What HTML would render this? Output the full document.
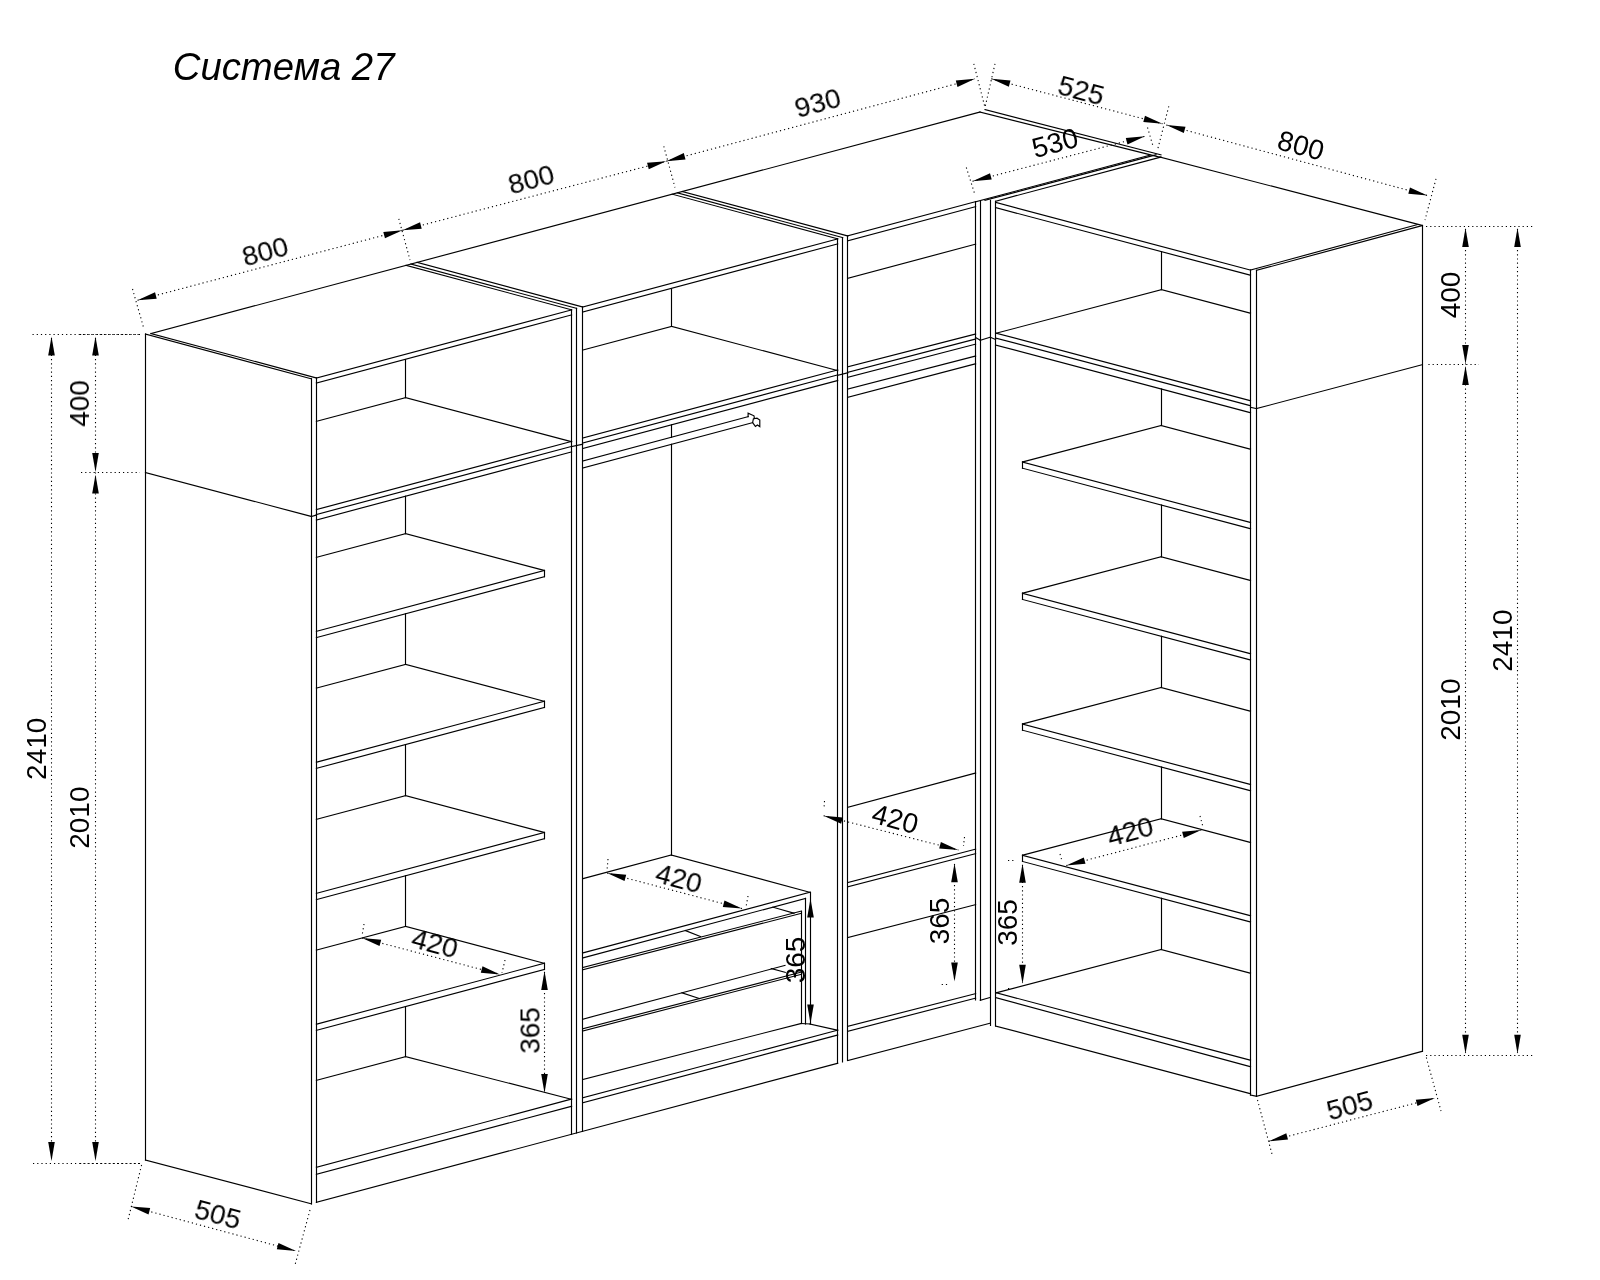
<!DOCTYPE html>
<html lang="ru"><head><meta charset="utf-8"><title>Система 27</title>
<style>html,body{margin:0;padding:0;background:#fff}svg{display:block}text{font-family:"Liberation Sans",sans-serif;fill:#000}</style></head><body>
<svg width="1600" height="1280" viewBox="0 0 1600 1280">
<rect width="1600" height="1280" fill="#fff"/>
<g stroke="#000" stroke-width="1.15" fill="none" stroke-linecap="square">
<path d="M145.5 334L145.5 1160"/>
<path d="M145.5 334L311.4 378.8"/>
<path d="M151 333.5L316.4 378"/>
<path d="M311.5 378.8L311.5 1203.8"/>
<path d="M316.5 378L316.5 1202.4"/>
<path d="M145.5 1160L311.4 1203.8"/>
<path d="M145.5 472.5L311.4 516.5"/>
<path d="M151 333.5L980 112"/>
<path d="M316.4 378L571.6 309.86"/>
<path d="M316.4 383L571.6 314.86"/>
<path d="M582.6 307L837.7 238.89"/>
<path d="M582.6 312L837.7 243.89"/>
<path d="M847.8 235.8L975.6 201.68"/>
<path d="M847.8 240.8L975.6 206.68"/>
<path d="M406 265.36L571.6 309.8"/>
<path d="M411 264.03L576.6 308.4"/>
<path d="M417 262.42L582.6 307"/>
<path d="M672.3 194.21L837.7 238.9"/>
<path d="M677.3 192.87L842.7 237.6"/>
<path d="M682.4 191.51L847.8 236"/>
<path d="M316.4 1202.4L837.7 1063.24"/>
<path d="M847.8 1060.54L990.3 1023.2"/>
<path d="M571.5 309.8L571.5 1134.29"/>
<path d="M576.5 308.4L576.5 1132.95"/>
<path d="M582.5 307L582.5 1131.35"/>
<path d="M837.5 238.9L837.5 1063.24"/>
<path d="M842.5 237.6L842.5 1061.9"/>
<path d="M847.5 236L847.5 1060.54"/>
<path d="M571.6 446.6L582.6 444.2"/>
<path d="M837.7 375.4L847.8 372.8"/>
<path d="M405.5 359.6L405.5 397.6"/>
<path d="M405.4 397.6L316.4 421.36"/>
<path d="M405.4 397.6L571.6 441.73"/>
<path d="M316.4 509.6L571.6 441.46"/>
<path d="M316.4 514.5L571.6 446.36"/>
<path d="M316.4 520L571.6 451.86"/>
<path d="M311.4 516.5L316.4 515"/>
<path d="M405.5 496.24L405.5 533.6"/>
<path d="M405.4 533.6L316.4 557.36"/>
<path d="M405.4 533.6L544.4 570.5"/>
<path d="M544.5 570.5L544.5 576.7"/>
<path d="M544.4 570.5L316.4 631.38"/>
<path d="M544.4 576.7L316.4 637.58"/>
<path d="M405.5 613.82L405.5 664.4"/>
<path d="M405.4 664.4L316.4 688.16"/>
<path d="M405.4 664.4L544.4 701.3"/>
<path d="M544.5 701.3L544.5 707.5"/>
<path d="M544.4 701.3L316.4 762.18"/>
<path d="M544.4 707.5L316.4 768.38"/>
<path d="M405.5 744.62L405.5 795.6"/>
<path d="M405.4 795.6L316.4 819.36"/>
<path d="M405.4 795.6L544.4 832.5"/>
<path d="M544.5 832.5L544.5 838.7"/>
<path d="M544.4 832.5L316.4 893.38"/>
<path d="M544.4 838.7L316.4 899.58"/>
<path d="M405.5 875.82L405.5 926.4"/>
<path d="M405.4 926.4L316.4 950.16"/>
<path d="M405.4 926.4L544.4 963.3"/>
<path d="M544.5 963.3L544.5 969.5"/>
<path d="M544.4 963.3L316.4 1024.18"/>
<path d="M544.4 969.5L316.4 1030.38"/>
<path d="M405.5 1006.62L405.5 1056.6"/>
<path d="M405.4 1056.6L316.4 1080.36"/>
<path d="M405.4 1056.6L571.6 1099.3"/>
<path d="M316.4 1167.2L571.6 1099.06"/>
<path d="M316.4 1174.4L571.6 1106.26"/>
<path d="M671.5 289L671.5 326.4"/>
<path d="M671.4 326.4L582.6 350.11"/>
<path d="M671.4 326.4L837.7 370.55"/>
<path d="M582.6 438L837.7 369.89"/>
<path d="M582.6 443L837.7 374.89"/>
<path d="M582.6 448.6L837.7 380.49"/>
<path d="M582.6 461L748.1 416.6"/>
<path d="M582.6 468L752.6 422.6"/>
<path d="M671.5 424.89L671.5 437.29"/>
<path d="M671.5 444.29L671.5 855"/>
<path d="M671.4 855L582.6 878.71"/>
<path d="M671.4 855L810 892.3"/>
<path d="M810 892.3L582.6 953"/>
<path d="M805.5 898.4L582.6 958"/>
<path d="M810.5 892.3L810.5 1024"/>
<path d="M805.5 898.4L805.5 1024"/>
<path d="M801.5 911.2L801.5 1023.5"/>
<path d="M582.6 967.6L801 911.2"/>
<path d="M582.6 969.8L801 913.4"/>
<path d="M685.5 930.6L700.5 936.6"/>
<path d="M773 907.2L794 913.2"/>
<path d="M582.6 1019.2L785 965.4"/>
<path d="M582.6 1028.8L801 972.2"/>
<path d="M582.6 1031L801 974.4"/>
<path d="M682 992.8L699.5 998.6"/>
<path d="M771.3 968.6L785.3 972.4"/>
<path d="M582.6 1079.6L801 1023.5"/>
<path d="M801 1023.5L810 1024"/>
<path d="M810 1024L837.7 1030.2"/>
<path d="M582.6 1097.9L837.7 1030.2"/>
<path d="M582.6 1102.8L837.7 1035"/>
<path d="M847.8 278.2L975.6 244.2"/>
<path d="M847.8 366.9L975.6 334"/>
<path d="M847.8 372.3L975.6 339"/>
<path d="M847.8 377.2L975.6 344.2"/>
<path d="M847.8 389L975.6 356"/>
<path d="M847.8 397.3L975.6 363.8"/>
<path d="M847.8 807.25L975.6 773"/>
<path d="M847.8 882.5L975.6 849.2"/>
<path d="M847.8 886.9L975.6 853.6"/>
<path d="M847.8 937.6L975.6 904.6"/>
<path d="M847.8 1026.4L975.6 993.6"/>
<path d="M847.8 1031.2L975.6 998.2"/>
<path d="M975.5 201.6L975.5 999.8"/>
<path d="M980.5 201L980.5 1000.2"/>
<path d="M990.5 200.4L990.5 1025.4"/>
<path d="M995.5 201.2L995.5 1026"/>
<path d="M980.3 1000.2L990.3 997.4"/>
<path d="M975.6 337.5L980.3 340.3"/>
<path d="M980.3 340.3L990.3 337.2"/>
<path d="M990.3 337.2L995.6 339.5"/>
<path d="M980 112L1160 157.2"/>
<path d="M985 109.6L1161 154.8"/>
<path d="M1160 157L1422.4 225.5"/>
<path d="M975.6 201.8L1150 155.2"/>
<path d="M985 200.4L1156 154.8"/>
<path d="M995.6 201.2L1161 157"/>
<path d="M995.6 202.4L1250.5 270.08"/>
<path d="M995.6 207.6L1250.5 275.28"/>
<path d="M1250.5 270.1L1250.5 1095"/>
<path d="M1256.5 270.4L1256.5 1096.3"/>
<path d="M1422.5 225.5L1422.5 1051.3"/>
<path d="M1256.5 270.4L1422.4 225.5"/>
<path d="M1250.5 270.1L1417.2 224.6"/>
<path d="M1256.5 1096.3L1422.4 1051.3"/>
<path d="M1256.5 408.6L1422.4 364.6"/>
<path d="M1250.5 1095L1256.5 1096.3"/>
<path d="M1250.5 407.2L1256.5 408.6"/>
<path d="M1161.5 251.8L1161.5 289.6"/>
<path d="M1161.3 289.6L995.6 333.4"/>
<path d="M1161.3 289.6L1250.5 313.28"/>
<path d="M995.6 333L1250.5 400.68"/>
<path d="M995.6 338L1250.5 405.68"/>
<path d="M995.6 345L1250.5 412.68"/>
<path d="M1161.5 388.99L1161.5 425.5"/>
<path d="M1161.3 425.5L1022.5 462"/>
<path d="M1161.3 425.5L1250.5 449.18"/>
<path d="M1022.5 462L1022.5 468.2"/>
<path d="M1022.5 462L1250.5 522.53"/>
<path d="M1022.5 468.2L1250.5 528.73"/>
<path d="M1161.5 505.05L1161.5 556.75"/>
<path d="M1161.3 556.75L1022.5 593.25"/>
<path d="M1161.3 556.75L1250.5 580.43"/>
<path d="M1022.5 593.25L1022.5 599.45"/>
<path d="M1022.5 593.25L1250.5 653.78"/>
<path d="M1022.5 599.45L1250.5 659.98"/>
<path d="M1161.5 636.3L1161.5 687.5"/>
<path d="M1161.3 687.5L1022.5 724"/>
<path d="M1161.3 687.5L1250.5 711.18"/>
<path d="M1022.5 724L1022.5 730.2"/>
<path d="M1022.5 724L1250.5 784.53"/>
<path d="M1022.5 730.2L1250.5 790.73"/>
<path d="M1161.5 767.05L1161.5 818.75"/>
<path d="M1161.3 818.75L1022.5 855.25"/>
<path d="M1161.3 818.75L1250.5 842.43"/>
<path d="M1022.5 855.25L1022.5 861.45"/>
<path d="M1022.5 855.25L1250.5 915.78"/>
<path d="M1022.5 861.45L1250.5 921.98"/>
<path d="M1161.5 898.3L1161.5 949.5"/>
<path d="M1161.3 949.5L995.6 993"/>
<path d="M1161.3 949.5L1250.5 973.18"/>
<path d="M995.6 992.6L1250.5 1060.28"/>
<path d="M995.6 997.6L1250.5 1066.7"/>
<path d="M995.6 1026L1250.5 1093.68"/>
<path d="M748.1 416.6 L748.1 413.2 L754 415.8 L754.4 418.6" />
<path d="M753.4 418.8 L757 418.2 L759.8 420 L759.8 426.6 L757.4 425 L755.4 426.4 L752.6 422.6 Z" />
</g>
<g stroke="#000" stroke-width="1.1" fill="none" stroke-dasharray="1.2 3">
<path d="M137.5 300.3L402.5 230.3"/>
<path d="M402.5 230.3L666.3 161.2"/>
<path d="M666.3 161.2L975 78.8"/>
<path d="M132.5 289L144 329"/>
<path d="M398.8 218.8L410 260"/>
<path d="M663.8 146.3L675 187.5"/>
<path d="M973.8 63.8L985 107.5"/>
<path d="M991.3 78.8L1162.5 123.8"/>
<path d="M995 63.8L985 107.5"/>
<path d="M1168.8 106.3L1157.5 150"/>
<path d="M1166.3 125L1427.5 195.5"/>
<path d="M1436 178.8L1425 220"/>
<path d="M972.5 181.3L1145 136.3"/>
<path d="M966.3 167.5L975 195"/>
<path d="M1147.5 127.5L1153 146"/>
<path d="M32.5 334.5L140 334.5"/>
<path d="M81 472.5L140 472.5"/>
<path d="M33 1163.5L140 1163.5"/>
<path d="M80 334.5L140 334.5"/>
<path d="M80 1163.5L140 1163.5"/>
<path d="M51.5 338L51.5 1160"/>
<path d="M95.5 338L95.5 1160"/>
<path d="M1426 226.5L1535 226.5"/>
<path d="M1428.4 364.5L1479 364.5"/>
<path d="M1426 1055.5L1534 1055.5"/>
<path d="M1465.5 229L1465.5 1053"/>
<path d="M1517.5 229L1517.5 1053"/>
<path d="M131 1206.4L296 1251"/>
<path d="M141.6 1165L128 1220"/>
<path d="M310 1210L295 1265"/>
<path d="M1268.8 1141.3L1435 1098"/>
<path d="M1257.5 1100L1272.5 1156"/>
<path d="M1426.3 1057.5L1441 1111"/>
<path d="M362 938L500 974.4"/>
<path d="M364 924L362 936"/>
<path d="M505 960L502 973"/>
<path d="M544.5 972L544.5 1092"/>
<path d="M607 873L742 908.6"/>
<path d="M608 859L607 871"/>
<path d="M748 896L746 907"/>
<path d="M823.6 815.7L958.4 850.1"/>
<path d="M824.5 801L824 808"/>
<path d="M964.5 837L963.5 846"/>
<path d="M954.5 864L954.5 981"/>
<path d="M941.7 984.5L949 984.5"/>
<path d="M1066.3 865.5L1201.3 830"/>
<path d="M1060 854L1062 861"/>
<path d="M1200 816L1203 827"/>
<path d="M1022.5 865L1022.5 983"/>
<path d="M1008 860.5L1014 860.5"/>
<path d="M1008 988.5L1016 988.5"/>
</g>
<g fill="#000" stroke="none">
<polygon points="137.5,300.3 156.71,298.64 155.03,292.26"/>
<polygon points="402.5,230.3 383.29,231.96 384.97,238.34"/>
<polygon points="402.5,230.3 421.72,228.68 420.04,222.29"/>
<polygon points="666.3,161.2 647.08,162.82 648.76,169.21"/>
<polygon points="666.3,161.2 685.51,159.49 683.81,153.11"/>
<polygon points="975,78.8 955.79,80.51 957.49,86.89"/>
<polygon points="991.3,78.8 1008.82,86.87 1010.51,80.49"/>
<polygon points="1162.5,123.8 1144.98,115.73 1143.29,122.11"/>
<polygon points="1166.3,125 1183.82,133.07 1185.51,126.69"/>
<polygon points="1427.5,195.5 1409.98,187.43 1408.29,193.81"/>
<polygon points="972.5,181.3 991.71,179.59 990.01,173.21"/>
<polygon points="1145,136.3 1125.79,138.01 1127.49,144.39"/>
<polygon points="51.5,336.5 48.2,355.5 54.8,355.5"/>
<polygon points="51.5,1161 54.8,1142 48.2,1142"/>
<polygon points="95.5,336.5 92.2,355.5 98.8,355.5"/>
<polygon points="95.5,472 98.8,453 92.2,453"/>
<polygon points="95.5,474.6 92.2,493.6 98.8,493.6"/>
<polygon points="95.5,1161 98.8,1142 92.2,1142"/>
<polygon points="1465.5,228 1462.2,247 1468.8,247"/>
<polygon points="1465.5,364 1468.8,345 1462.2,345"/>
<polygon points="1465.5,366 1462.2,385 1468.8,385"/>
<polygon points="1465.5,1053.8 1468.8,1034.8 1462.2,1034.8"/>
<polygon points="1517.5,228 1514.2,247 1520.8,247"/>
<polygon points="1517.5,1053.8 1520.8,1034.8 1514.2,1034.8"/>
<polygon points="131,1206.4 148.52,1214.47 150.21,1208.09"/>
<polygon points="296,1251 278.48,1242.93 276.79,1249.31"/>
<polygon points="1268.8,1141.3 1288.01,1139.59 1286.31,1133.21"/>
<polygon points="1435,1098 1415.79,1099.71 1417.49,1106.09"/>
<polygon points="362,938 379.52,946.07 381.21,939.69"/>
<polygon points="500,974.4 482.48,966.33 480.79,972.71"/>
<polygon points="544.5,971 541.2,990 547.8,990"/>
<polygon points="544.5,1093 547.8,1074 541.2,1074"/>
<polygon points="607,873 624.52,881.07 626.21,874.69"/>
<polygon points="742,908.6 724.48,900.53 722.79,906.91"/>
<polygon points="810.5,898.5 807.2,917.5 813.8,917.5"/>
<polygon points="810.5,1023.5 813.8,1004.5 807.2,1004.5"/>
<polygon points="823.6,815.7 841.12,823.77 842.81,817.39"/>
<polygon points="958.4,850.1 940.88,842.03 939.19,848.41"/>
<polygon points="954.5,863.2 951.2,882.2 957.8,882.2"/>
<polygon points="954.5,981.6 957.8,962.6 951.2,962.6"/>
<polygon points="1066.3,865.5 1085.51,863.79 1083.81,857.41"/>
<polygon points="1201.3,830 1182.09,831.71 1183.79,838.09"/>
<polygon points="1022.5,863.8 1019.2,882.8 1025.8,882.8"/>
<polygon points="1022.5,983.8 1025.8,964.8 1019.2,964.8"/>
</g>
<g text-anchor="middle" opacity="0.999">
<text transform="translate(265 251) rotate(-15)" y="10.02" font-size="28">800</text>
<text transform="translate(531 179) rotate(-15)" y="10.02" font-size="28">800</text>
<text transform="translate(817.5 102.5) rotate(-15)" y="10.02" font-size="28">930</text>
<text transform="translate(1081.3 90) rotate(15)" y="10.02" font-size="28">525</text>
<text transform="translate(1301 145) rotate(15)" y="10.02" font-size="28">800</text>
<text transform="translate(1055 142.5) rotate(-15)" y="10.02" font-size="28">530</text>
<text transform="translate(35.8 748.8) rotate(-90)" y="10.02" font-size="28">2410</text>
<text transform="translate(79.4 817.7) rotate(-90)" y="10.02" font-size="28">2010</text>
<text transform="translate(79 403.5) rotate(-90)" y="10.02" font-size="28">400</text>
<text transform="translate(1450 295) rotate(-90)" y="10.02" font-size="28">400</text>
<text transform="translate(1449.5 709.7) rotate(-90)" y="10.02" font-size="28">2010</text>
<text transform="translate(1502 640.7) rotate(-90)" y="10.02" font-size="28">2410</text>
<text transform="translate(218 1214) rotate(15)" y="10.02" font-size="28">505</text>
<text transform="translate(1349.5 1105) rotate(-15)" y="10.02" font-size="28">505</text>
<text transform="translate(435 943) rotate(15)" y="10.02" font-size="28">420</text>
<text transform="translate(529.5 1030.5) rotate(-90)" y="10.02" font-size="28">365</text>
<text transform="translate(679 878) rotate(15)" y="10.02" font-size="28">420</text>
<text transform="translate(795 960) rotate(-90)" y="10.02" font-size="28">365</text>
<text transform="translate(895.4 818.6) rotate(15)" y="10.02" font-size="28">420</text>
<text transform="translate(939 921) rotate(-90)" y="10.02" font-size="28">365</text>
<text transform="translate(1130 831) rotate(-15)" y="10.02" font-size="28">420</text>
<text transform="translate(1007 922.5) rotate(-90)" y="10.02" font-size="28">365</text>
<text transform="translate(283.6 65.8) rotate(0) scale(0.97 1)" y="14.14" font-size="39.5" font-style="italic">Система 27</text>
</g>
</svg></body></html>
